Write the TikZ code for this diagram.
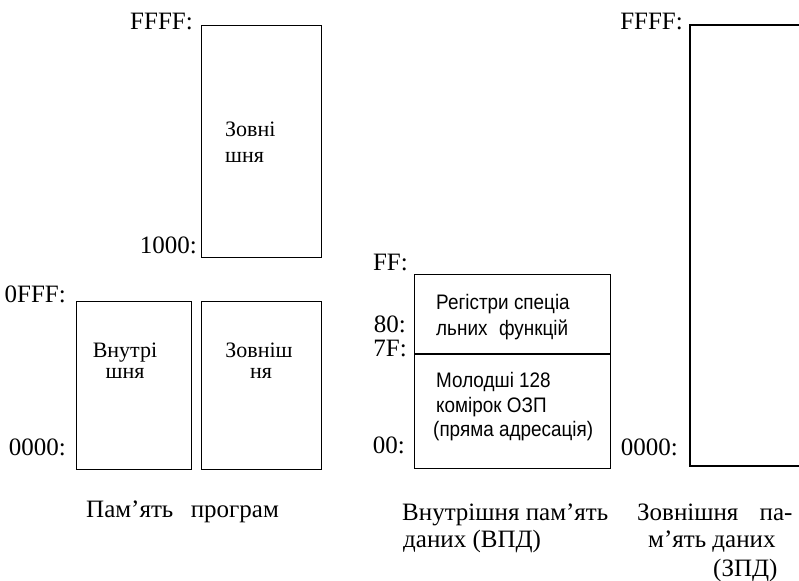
\documentclass[tikz,border=0pt]{standalone}
\usepackage{fontspec}
\setmainfont{Liberation Serif}
\newfontfamily\narrowsans[FakeStretch=0.9]{Liberation Sans}
\begin{document}
\begin{tikzpicture}[x=1pt,y=-1pt,
  membox/.style={draw,line width=1.3pt,inner sep=0pt,anchor=north west},
  addr/.style={inner sep=0pt,font=\fontsize{25}{28}\selectfont},
  captxt/.style={inner sep=0pt,font=\fontsize{25}{28}\selectfont},
  boxtxt/.style={inner sep=0pt,font=\fontsize{22}{24}\selectfont},
  sftxt/.style={inner sep=0pt,anchor=base west,font=\narrowsans\fontsize{21}{24}\selectfont}]
\useasboundingbox (0,0) rectangle (799,580);
\clip (0,0) rectangle (799,580);
% program memory
\node[membox,minimum width=120pt,minimum height=232pt] (pext) at (200.5,25) {};
\node[membox,minimum width=115pt,minimum height=168pt] (pint) at (76,301) {};
\node[membox,minimum width=120pt,minimum height=168pt] (pext2) at (200.5,301) {};
\node[addr,anchor=base east] (a1) at (193,30) {FFFF:};
\node[addr,anchor=base east] (a2) at (197,253) {1000:};
\node[addr,anchor=base east] (a3) at (66,302) {0FFF:};
\node[addr,anchor=base east] (a4) at (66,455) {0000:};
\node[boxtxt,anchor=base west] (t1) at (225,137) {Зовні};
\node[boxtxt,anchor=base west] (t2) at (225,162) {шня};
\node[boxtxt,anchor=base] (t3) at (125,357) {Внутрі};
\node[boxtxt,anchor=base] (t4) at (125,378) {шня};
\node[boxtxt,anchor=base] (t5) at (259,357) {Зовніш};
\node[boxtxt,anchor=base] (t6) at (261,378) {ня};
\node[captxt,anchor=base west] (c1) at (86,517) {Пам’ять\hspace{0.45em} програм};
% internal data memory
\node[membox,minimum width=196pt,minimum height=194pt] (vpd) at (414,274) {};
\draw[line width=1.3pt] (vpd.west |- 0,354) coordinate (dl) -- (vpd.east |- 0,354) coordinate (dr);
\node[addr,anchor=base east] (b1) at (408,270) {FF:};
\node[addr,anchor=base east] (b2) at (406,332) {80:};
\node[addr,anchor=base east] (b3) at (407,356) {7F:};
\node[addr,anchor=base east] (b4) at (405,453) {00:};
\node[sftxt] (s1) at (436,309) {Регістри спеціа};
\node[sftxt] (s2) at (436,335) {льних\hspace{0.3em} функцій};
\node[sftxt] (s3) at (436,387) {Молодші 128};
\node[sftxt] (s4) at (436,412) {комірок ОЗП};
\node[sftxt] (s5) at (433,436) {(пряма адресація)};
\node[captxt,anchor=base west] (c2) at (402,520) {Внутрішня пам’ять};
\node[captxt,anchor=base west] (c3) at (403,547) {даних (ВПД)};
% external data memory
\draw[line width=1.3pt] (820,25) -- (690,25) -- (690,466) -- (820,466);
\node[addr,anchor=base east] (d1) at (683,30) {FFFF:};
\node[addr,anchor=base east] (d2) at (678,455) {0000:};
\node[captxt,anchor=base west] (c4) at (637,520) {Зовнішня\hspace{0.6em} па-};
\node[captxt,anchor=base west] (c5) at (648,547) {м’ять даних};
\node[captxt,anchor=base west] (c6) at (713,576) {(ЗПД)};
\end{tikzpicture}
\end{document}
